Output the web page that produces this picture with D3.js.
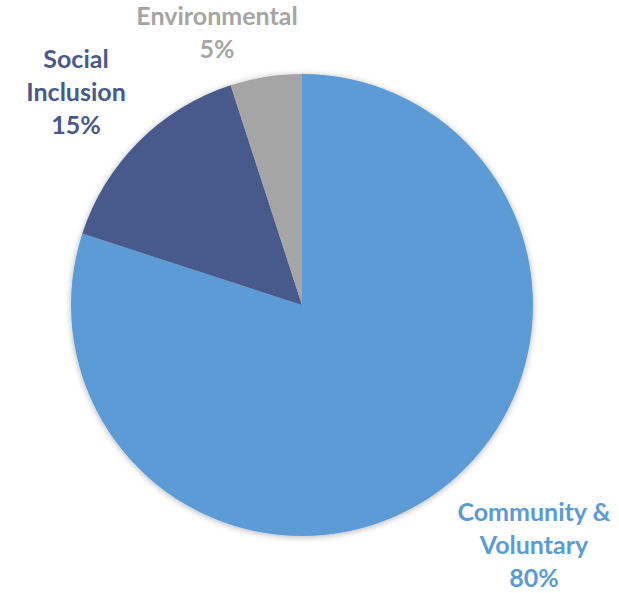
<!DOCTYPE html>
<html>
<head>
<meta charset="utf-8">
<script src="https://cdn.jsdelivr.net/npm/d3@7"></script>
<style>
  html, body { margin: 0; padding: 0; background: #fff; }
  svg { display: block; }
  .lbl { font-family: Lato, "Open Sans", sans-serif; font-weight: 700; text-anchor: middle; }
</style>
</head>
<body>
<div id="chart"></div>
<script>
// ===== 数据 =====
const categories = ["Community & Voluntary", "Social Inclusion", "Environmental"];
const values = [80, 15, 5];
const colors = ["#5B9BD5", "#475A8B", "#A5A5A5"];
// 标签换行
const labelLines = [["Community &", "Voluntary"], ["Social", "Inclusion"], ["Environmental"]];

// ===== 布局 =====
const W = 619, H = 593;
const cx = 302, cy = 305, R = 231;
// 标签中心相对圆心的偏移（Excel 的 best fit 位置）
const labelOffset = [[232, 240], [-226, -213], [-85, -272]];
const lineH = 33;

const svg = d3.select("#chart").append("svg")
  .attr("width", W).attr("height", H);

const defs = svg.append("defs");
const f = defs.append("filter").attr("id", "shadow")
  .attr("x", "-10%").attr("y", "-10%").attr("width", "120%").attr("height", "120%");
f.append("feDropShadow").attr("dx", 0).attr("dy", 1).attr("stdDeviation", 3)
  .attr("flood-color", "#000").attr("flood-opacity", 0.3);

const pie = d3.pie().sort(null).value(d => d)(values);
const arc = d3.arc().innerRadius(0).outerRadius(R);

const g = svg.append("g").attr("transform", `translate(${cx},${cy})`);

g.append("g").attr("filter", "url(#shadow)")
  .selectAll("path")
  .data(pie)
  .join("path")
  .attr("d", arc)
  .attr("fill", (d, i) => colors[i]);

// 标签
const fmt = d3.format(".0%");
const total = d3.sum(values);
const labels = g.selectAll("text.lbl")
  .data(pie)
  .join("text")
  .attr("class", "lbl")
  .attr("fill", (d, i) => colors[i])
  .attr("font-size", 25)
  .attr("transform", (d, i) => `translate(${labelOffset[i][0]},${labelOffset[i][1]})`);

labels.each(function (d, i) {
  const lines = labelLines[i].concat([fmt(d.data / total)]);
  const n = lines.length;
  d3.select(this).selectAll("tspan")
    .data(lines)
    .join("tspan")
    .attr("x", 0)
    .attr("y", (t, j) => (j - (n - 1) / 2) * lineH)
    .attr("dy", "0.35em")
    .text(t => t);
});
</script>
</body>
</html>
